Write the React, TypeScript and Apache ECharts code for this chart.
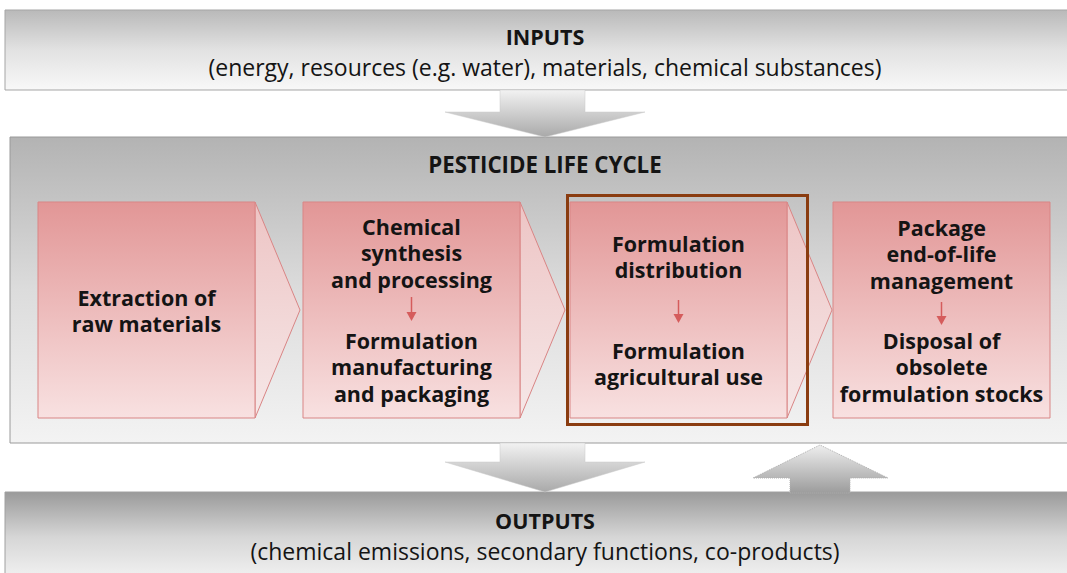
import React, { useEffect, useRef } from "react";
import * as echarts from "echarts";

const inputsTitle = "INPUTS";
const inputsSub = "(energy, resources (e.g. water), materials, chemical substances)";
const lifeTitle = "PESTICIDE LIFE CYCLE";
const outputsTitle = "OUTPUTS";
const outputsSub = "(chemical emissions, secondary functions, co-products)";

const stageTop: string[][] = [
  ["Extraction of", "raw materials"],
  ["Chemical", "synthesis", "and processing"],
  ["Formulation", "distribution"],
  ["Package", "end-of-life", "management"],
];
const stageBottom: string[][] = [
  [],
  ["Formulation", "manufacturing", "and packaging"],
  ["Formulation", "agricultural use"],
  ["Disposal of", "obsolete", "formulation stocks"],
];
const highlightedStage = 2;

// layout
const boxX = [38, 303, 570, 833];
const boxW = 217;
const boxY = 202;
const boxH = 216;
const topStartY = [297, 226, 243, 227];
const bottomStartY = [0, 340, 350, 340];
const arrowYs: number[][] = [[], [297, 321], [300, 323], [302, 325]];
const LH = 26.8;

const lg = (c1: string, c2: string, x2 = 0, y2 = 1, mid?: string) => ({
  type: "linear",
  x: 0,
  y: 0,
  x2,
  y2,
  colorStops: mid
    ? [
        { offset: 0, color: c1 },
        { offset: 0.5, color: mid },
        { offset: 1, color: c2 },
      ]
    : [
        { offset: 0, color: c1 },
        { offset: 1, color: c2 },
      ],
});

const FONT = "'Open Sans', 'Noto Sans', sans-serif";

function txt(text: string, x: number, y: number, size: number, bold: boolean) {
  return {
    type: "text",
    x,
    y,
    z: 10,
    style: {
      text,
      fill: "#141414",
      fontSize: size,
      fontWeight: bold ? "bold" : "normal",
      fontFamily: FONT,
      align: "center",
      verticalAlign: "middle",
    },
  };
}

export default function App() {
  const ref = useRef<HTMLDivElement>(null);
  useEffect(() => {
    if (!ref.current) return;
    const chart = echarts.init(ref.current, undefined, { renderer: "svg" });
    const els: any[] = [];

    // INPUTS box
    els.push({
      type: "rect",
      shape: { x: 5, y: 10, width: 1075, height: 80 },
      style: { fill: lg("#b9b9b9", "#f8f8f8", 0, 1, "#e2e2e2"), stroke: "#a5a5a5", lineWidth: 1 },
    });
    els.push(txt(inputsTitle, 545, 36, 21.5, true));
    els.push(txt(inputsSub, 545, 66.5, 23, false));

    // LIFE CYCLE box
    els.push({
      type: "rect",
      shape: { x: 10, y: 137, width: 1070, height: 306 },
      style: { fill: lg("#b3b3b3", "#f3f3f3", 0, 1, "#dcdcdc"), stroke: "#9a9a9a", lineWidth: 1 },
    });
    els.push(txt(lifeTitle, 545, 164, 22.3, true));

    // down arrow 1
    els.push({
      type: "polygon",
      z: 5,
      shape: { points: [[500, 90], [585, 90], [585, 112], [645, 112], [545, 137], [445, 112], [500, 112]] },
      style: { fill: lg("#f2f2f2", "#a9a9a9"), stroke: "#c8c8c8", lineWidth: 0.5 },
    });

    // stages
    for (let i = 0; i < stageTop.length; i++) {
      const x = boxX[i];
      if (i < stageTop.length - 1) {
        els.push({
          type: "polygon",
          shape: { points: [[x + boxW, boxY], [x + boxW + 45, boxY + boxH / 2], [x + boxW, boxY + boxH]] },
          style: { fill: lg("#edc4c4", "#f6e8e8"), stroke: "#d98585", lineWidth: 1 },
        });
      }
      els.push({
        type: "rect",
        shape: { x, y: boxY, width: boxW, height: boxH },
        style: { fill: lg("#e29696", "#f8e1e1"), stroke: "#d98585", lineWidth: 1 },
      });
      stageTop[i].forEach((t, k) => els.push(txt(t, x + boxW / 2, topStartY[i] + k * LH, 21.5, true)));
      stageBottom[i].forEach((t, k) => els.push(txt(t, x + boxW / 2, bottomStartY[i] + k * LH, 21.5, true)));
      if (stageBottom[i].length) {
        const [a, b] = arrowYs[i];
        const cx = x + boxW / 2;
        els.push({
          type: "line",
          z: 10,
          shape: { x1: cx, y1: a, x2: cx, y2: b - 7 },
          style: { stroke: "#d55c5c", lineWidth: 1.5 },
        });
        els.push({
          type: "polygon",
          z: 10,
          shape: { points: [[cx - 5, b - 9], [cx + 5, b - 9], [cx, b]] },
          style: { fill: "#d55c5c" },
        });
      }
    }

    // highlight
    els.push({
      type: "rect",
      z: 12,
      shape: { x: boxX[highlightedStage] - 2.5, y: 195.5, width: 240, height: 229 },
      style: { fill: "none", stroke: "#8a3c10", lineWidth: 3 },
    });

    // OUTPUTS box
    els.push({
      type: "rect",
      shape: { x: 5, y: 492, width: 1075, height: 90 },
      style: { fill: lg("#9a9a9a", "#f4f4f4", 0, 1, "#d6d6d6"), stroke: "#a0a0a0", lineWidth: 1 },
    });
    els.push(txt(outputsTitle, 545, 520, 21.5, true));
    els.push(txt(outputsSub, 545, 550.5, 23, false));

    // down arrow 2
    els.push({
      type: "polygon",
      z: 5,
      shape: { points: [[500, 443], [585, 443], [585, 462], [645, 462], [545, 492], [445, 462], [500, 462]] },
      style: { fill: lg("#f2f2f2", "#a9a9a9"), stroke: "#c8c8c8", lineWidth: 0.5 },
    });
    // up arrow
    els.push({
      type: "polygon",
      z: 5,
      shape: { points: [[790, 493], [790, 478], [753, 478], [820, 445], [888, 478], [850, 478], [850, 493]] },
      style: { fill: lg("#eeeeee", "#9c9c9c"), stroke: "#b0b0b0", lineWidth: 1, lineDash: [1, 1] },
    });

    chart.setOption({
      animation: false,
      backgroundColor: "#ffffff",
      graphic: { elements: els },
    });
    return () => chart.dispose();
  }, []);
  return (
    <div
      ref={ref}
      style={{ position: "fixed", left: 0, top: 0, width: 1067, height: 573 }}
    />
  );
}
